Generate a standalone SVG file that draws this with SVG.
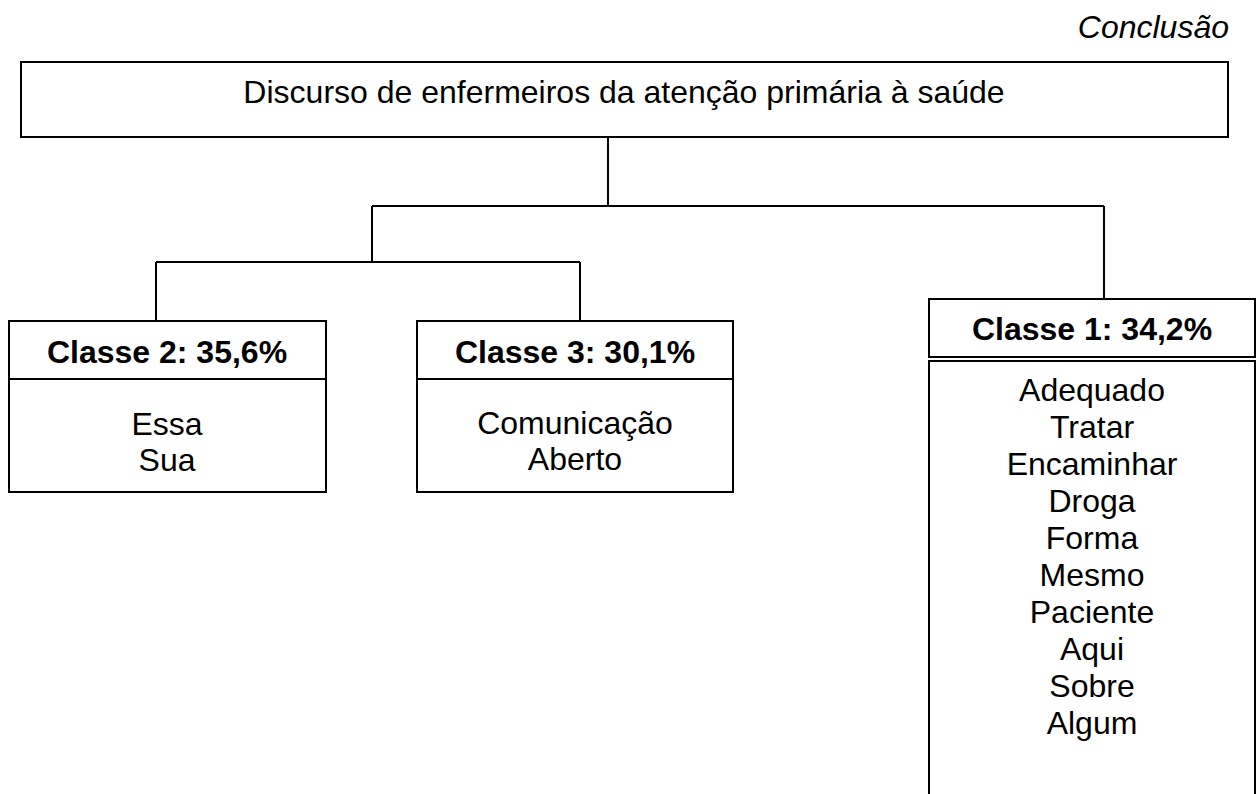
<svg xmlns="http://www.w3.org/2000/svg" width="1259" height="794" viewBox="0 0 1259 794">
<style>
.box{fill:#fff;stroke:#000;stroke-width:2}
.ln{fill:none;stroke:#000;stroke-width:2}
text{font-family:"Liberation Sans",Arial,sans-serif;font-size:32px;fill:#000;text-anchor:middle}
.b{font-weight:bold}
.it{font-style:italic;text-anchor:end}
</style>
<rect width="1259" height="794" fill="#fff"/>
<text class="it" x="1229" y="38">Conclusão</text>
<g id="root">
<rect class="box" x="21" y="62" width="1207" height="75"/>
<text x="624" y="103">Discurso de enfermeiros da atenção primária à saúde</text>
</g>
<g id="connectors">
<path class="ln" d="M608 137V206M372 206H1104M372 206V262M156 262H580M156 262V321M580 262V321M1104 206V299"/>
</g>
<g id="classe2">
<rect class="box" x="9" y="321" width="317" height="171"/>
<line class="ln" x1="9" y1="379" x2="326" y2="379"/>
<text class="b" x="167" y="363">Classe 2: 35,6%</text>
<text x="167" y="435">Essa</text>
<text x="167" y="471">Sua</text>
</g>
<g id="classe3">
<rect class="box" x="417" y="321" width="316" height="171"/>
<line class="ln" x1="417" y1="379" x2="733" y2="379"/>
<text class="b" x="575" y="363">Classe 3: 30,1%</text>
<text x="575" y="434">Comunicação</text>
<text x="575" y="470">Aberto</text>
</g>
<g id="classe1">
<rect class="box" x="929" y="299" width="326" height="58"/>
<text class="b" x="1092" y="340">Classe 1: 34,2%</text>
<rect class="box" x="929" y="361" width="326" height="450"/>
<text x="1092" y="401">Adequado</text>
<text x="1092" y="438">Tratar</text>
<text x="1092" y="475">Encaminhar</text>
<text x="1092" y="512">Droga</text>
<text x="1092" y="549">Forma</text>
<text x="1092" y="586">Mesmo</text>
<text x="1092" y="623">Paciente</text>
<text x="1092" y="660">Aqui</text>
<text x="1092" y="697">Sobre</text>
<text x="1092" y="734">Algum</text>
</g>
</svg>
